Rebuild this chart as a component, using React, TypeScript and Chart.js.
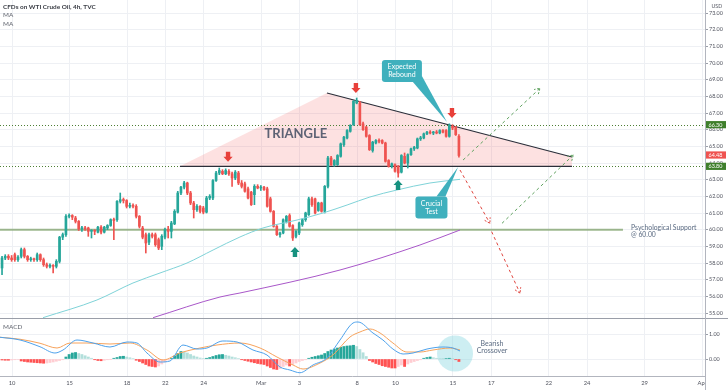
import React, { useEffect, useRef } from 'react';
import { Chart, registerables } from 'chart.js';

Chart.register(...registerables);

const W = 728;
const H = 390;

// ---------- time axis (trading-day index, 0 = Feb 10) ----------
const dayTicks = [0, 3, 6, 8, 10, 13, 15, 18, 20, 23, 25, 28, 30, 33, 36];
const dayTickLabels = ['10', '15', '18', '22', '24', 'Mar', '3', '8', '10', '15', '17', '22', '24', '29', 'Apr'];
const dayMin = -0.626;
const dayMax = 36.15;

// ---------- price axis ----------
const priceTicks = [55, 56, 57, 58, 59, 60, 61, 62, 63, 64, 65, 66, 67, 68, 69, 70, 71, 72, 73];
const priceMin = 54.7;
const priceMax = 73.78;
const macdTicks = [0, 1];
const macdMin = -0.68;
const macdMax = 1.64;

// ---------- 4h candles [open, high, low, close] ----------
const firstBarDay = -0.52;
const barsPerDay = 6;
const candles: number[][] = [
  [57.7, 58.4, 57.3, 58.3], [58.3, 58.5, 58.2, 58.4], [58.4, 58.5, 58.2, 58.3], [58.3, 58.45, 58.1, 58.2],
  [58.5, 58.6, 58.1, 58.2], [58.2, 58.45, 58.1, 58.35], [58.4, 58.9, 58.3, 58.8], [58.8, 58.9, 58.3, 58.4],
  [58.4, 58.45, 58.1, 58.2], [58.2, 58.35, 58.1, 58.25], [58.25, 58.3, 58.1, 58.2], [58.2, 58.6, 58.1, 58.5],
  [58.5, 58.55, 58.1, 58.2], [58.2, 58.3, 57.8, 57.9], [57.9, 58.0, 57.7, 57.8], [57.8, 57.95, 57.7, 57.85],
  [57.85, 57.9, 57.4, 57.8], [57.8, 58.2, 57.7, 58.1], [58.1, 59.6, 58.0, 59.55], [59.55, 59.8, 59.4, 59.7],
  [59.7, 60.9, 59.6, 60.8], [60.8, 60.95, 60.7, 60.85], [60.85, 60.9, 60.6, 60.75], [60.7, 60.8, 60.4, 60.5],
  [60.5, 60.55, 59.95, 60.05], [60.05, 60.2, 59.9, 60.1], [60.1, 60.2, 59.95, 60.05], [60.1, 60.15, 59.6, 59.9],
  [59.9, 60.0, 59.5, 59.95], [59.95, 60.0, 59.7, 59.9], [59.85, 60.2, 59.8, 60.15], [60.15, 60.25, 59.75, 59.85],
  [59.85, 60.2, 59.8, 60.15], [60.1, 60.3, 60.0, 60.25], [60.25, 60.65, 60.2, 60.6], [60.6, 60.7, 59.4, 60.55],
  [60.6, 61.75, 60.5, 61.7], [61.7, 62.2, 61.6, 61.8], [61.8, 61.9, 61.6, 61.75], [61.75, 61.8, 61.3, 61.4],
  [61.4, 61.6, 61.3, 61.45], [61.45, 61.55, 61.3, 61.4], [61.4, 61.5, 60.7, 60.8], [60.8, 60.85, 60.1, 60.2],
  [60.1, 60.2, 59.45, 59.55], [59.7, 59.8, 58.6, 59.2], [59.25, 59.8, 59.1, 59.7], [59.7, 59.8, 59.5, 59.6],
  [59.7, 59.8, 59.0, 59.1], [59.4, 59.5, 58.8, 58.9], [59.0, 59.7, 58.8, 59.6], [59.55, 60.1, 59.45, 60.0],
  [60.0, 60.2, 59.5, 59.9], [59.9, 60.5, 59.5, 60.4], [60.35, 61.2, 60.3, 61.1], [61.05, 62.3, 61.0, 62.2],
  [62.2, 62.6, 62.1, 62.55], [62.55, 62.9, 62.45, 62.8], [62.8, 62.85, 62.1, 62.2], [62.2, 62.3, 61.5, 61.6],
  [61.6, 61.7, 60.7, 61.2], [61.2, 61.5, 61.1, 61.4], [61.4, 61.45, 61.0, 61.1], [61.3, 61.4, 60.95, 61.05],
  [61.05, 62.0, 61.0, 61.9], [61.9, 62.1, 61.8, 62.0], [61.9, 63.0, 61.8, 62.95], [62.95, 63.5, 62.9, 63.4],
  [63.4, 63.7, 63.3, 63.55], [63.5, 63.6, 63.3, 63.35], [63.35, 63.65, 63.3, 63.55], [63.5, 63.6, 63.25, 63.35],
  [63.35, 63.45, 62.6, 63.1], [63.1, 63.55, 63.0, 63.45], [63.4, 63.5, 62.7, 62.8], [62.8, 62.95, 62.5, 62.6],
  [62.75, 62.85, 62.25, 62.3], [62.45, 62.55, 61.85, 61.9], [62.25, 62.3, 61.45, 61.5], [62.1, 62.7, 61.5, 62.6],
  [62.6, 62.7, 62.45, 62.5], [62.5, 62.65, 62.35, 62.55], [62.55, 62.6, 62.35, 62.4], [62.45, 62.55, 61.35, 61.4],
  [61.85, 61.95, 61.05, 61.1], [61.1, 61.15, 60.15, 60.2], [60.2, 60.25, 59.65, 59.7], [59.7, 59.85, 59.55, 59.8],
  [59.8, 60.65, 59.75, 60.6], [60.5, 60.85, 60.4, 60.8], [60.85, 60.95, 60.15, 60.2], [60.25, 60.3, 59.35, 59.5],
  [59.6, 59.95, 59.5, 59.9], [59.8, 60.45, 59.7, 60.4], [60.3, 60.65, 60.2, 60.6], [60.6, 61.05, 60.5, 61.0],
  [60.9, 61.95, 60.85, 61.85], [61.85, 61.95, 61.4, 61.5], [61.85, 61.9, 60.95, 61.0], [61.15, 61.65, 61.1, 61.6],
  [61.6, 61.65, 61.05, 61.1], [61.1, 62.65, 61.0, 62.6], [62.6, 64.4, 62.5, 64.3], [64.3, 64.4, 63.85, 63.9],
  [63.9, 64.2, 63.8, 64.15], [63.9, 64.5, 63.85, 64.45], [64.4, 65.2, 64.35, 65.15], [65.1, 65.6, 65.0, 65.55],
  [65.5, 66.0, 65.45, 65.95], [65.9, 66.3, 65.85, 66.25], [66.3, 67.75, 66.25, 67.7], [67.6, 67.9, 67.55, 67.75],
  [67.6, 67.7, 66.25, 66.3], [66.35, 66.45, 65.95, 66.0], [66.15, 66.2, 65.55, 65.6], [65.65, 65.7, 64.75, 64.8],
  [64.75, 65.3, 64.65, 65.25], [65.2, 65.4, 65.15, 65.35], [65.35, 65.45, 65.2, 65.3], [65.35, 65.4, 65.15, 65.2],
  [65.2, 65.25, 64.05, 64.1], [64.15, 64.2, 63.75, 63.8], [63.8, 64.0, 63.7, 63.95], [63.9, 63.95, 63.45, 63.5],
  [63.8, 63.85, 63.15, 63.4], [63.45, 64.5, 63.4, 64.45], [64.4, 64.6, 63.95, 64.0], [64.0, 64.55, 63.7, 64.5],
  [64.5, 64.9, 64.45, 64.85], [64.85, 65.0, 64.75, 64.95], [64.9, 65.5, 64.85, 65.45], [65.45, 65.6, 65.35, 65.5],
  [65.5, 65.8, 65.45, 65.75], [65.75, 65.9, 65.7, 65.85], [65.85, 65.95, 65.75, 65.8], [65.8, 65.9, 65.7, 65.85],
  [65.85, 65.95, 65.75, 65.8], [65.8, 66.0, 65.75, 65.95], [65.95, 66.0, 65.8, 65.85], [65.95, 66.0, 65.55, 65.6],
  [65.6, 66.35, 65.55, 66.25], [66.2, 66.3, 66.0, 66.1], [66.15, 66.2, 65.65, 65.7], [65.6, 65.7, 64.35, 64.45],
];

// ---------- moving averages [day, value] ----------
const maFast: number[][] = [
  [1.62, 54.72], [4.43, 55.78], [6.31, 56.8], [7.72, 57.4], [9.13, 58.0], [10.49, 58.78], [11.89, 59.56],
  [13.09, 60.1], [14.87, 60.58], [16.22, 61.0], [17.48, 61.48], [18.67, 61.96], [20.08, 62.38], [21.8, 62.8], [23.37, 63.02],
];
const maSlow: number[][] = [
  [7.36, 54.72], [10.85, 55.96], [11.89, 56.2], [17.11, 57.58], [21.28, 59.08], [23.37, 59.98],
];

// ---------- MACD [day, value] ----------
const macdLine: number[][] = [
  [-0.63, 0.87], [0.42, 0.76], [1.46, 0.49], [2.24, 0.24], [2.66, 0.36], [3.39, 0.76], [4.23, 0.64], [5.11, 0.48],
  [6.0, 0.68], [6.52, 0.64], [7.04, 0.24], [7.72, -0.12], [8.24, -0.08], [8.92, 0.56], [9.65, 0.4], [10.17, 0.44],
  [11.0, 0.72], [11.74, 0.68], [12.57, 0.36], [13.3, 0.16], [13.98, -0.32], [14.5, -0.44], [15.02, -0.55],
  [15.7, -0.24], [16.43, 0.04], [17.11, 0.76], [17.79, 1.44], [18.05, 1.48], [18.83, 1.04], [19.35, 0.76],
  [19.87, 0.4], [20.4, 0.2], [20.92, 0.24], [21.65, 0.4], [22.48, 0.48], [23.0, 0.44], [23.37, 0.32],
];
const signalLine: number[][] = [
  [-0.63, 0.87], [0.42, 0.79], [1.46, 0.63], [2.35, 0.44], [3.03, 0.64], [3.91, 0.64], [5.11, 0.6], [6.16, 0.64],
  [7.04, 0.36], [7.88, -0.04], [8.76, 0.24], [9.81, 0.44], [10.69, 0.56], [11.89, 0.64], [12.94, 0.44],
  [13.82, 0.08], [14.66, -0.24], [15.18, -0.4], [16.07, -0.16], [16.74, 0.16], [17.63, 0.88], [18.15, 1.08],
  [18.68, 1.2], [19.2, 1.04], [19.87, 0.64], [20.6, 0.28], [21.28, 0.28], [21.96, 0.36], [22.85, 0.44], [23.37, 0.36],
];
const macdHistogram: number[] = [
  -0.04, -0.05, -0.05, -0.04, -0.03, -0.02, -0.08, -0.1, -0.12, -0.13, -0.14, -0.15, -0.16, -0.17, -0.16, -0.14,
  -0.12, -0.09, -0.06, -0.03, 0.08, 0.18, 0.24, 0.26, 0.22, 0.18, 0.13, 0.08, 0.03, -0.03, -0.06, -0.07,
  -0.05, -0.03, -0.01, 0.03, 0.06, 0.1, 0.11, 0.08, 0.05, 0.02, -0.05, -0.1, -0.16, -0.22, -0.28, -0.3,
  -0.32, -0.28, -0.2, -0.12, -0.04, 0.03, 0.12, 0.22, 0.3, 0.28, 0.24, 0.18, 0.12, 0.08, 0.04, 0.02,
  0.03, 0.06, 0.1, 0.14, 0.17, 0.18, 0.15, 0.12, 0.08, 0.05, 0.02, -0.03, -0.06, -0.09, -0.12, -0.15,
  -0.18, -0.2, -0.22, -0.28, -0.34, -0.4, -0.42, -0.38, -0.3, -0.24, -0.28, -0.22, -0.16, -0.1, -0.06, -0.03,
  0.03, 0.07, 0.1, 0.13, 0.16, 0.22, 0.3, 0.36, 0.4, 0.44, 0.47, 0.5, 0.52, 0.53, 0.55, 0.5,
  0.38, 0.25, 0.1, -0.06, -0.12, -0.18, -0.22, -0.27, -0.3, -0.33, -0.36, -0.36, -0.3, -0.24, -0.3, -0.2,
  -0.14, -0.1, -0.06, -0.03, 0.03, 0.06, 0.08, 0.05, 0.03, 0.02, 0.01, 0.02, 0.03, 0.01, -0.03, -0.1,
];

// ---------- annotations (data coordinates) ----------
const resistanceLevel = 66.3;
const supportLevel = 63.8;
const psychLevel = 60.0;
const lastPrice = 64.48;
const psychLineEndDay = 31.87;
const triangleLeft = [8.76, 63.8];
const triangleTop = [16.43, 68.2];
const triangleRight = [29.21, 64.36];
const bullishPaths: number[][][] = [
  [[23.53, 64.18], [27.54, 68.48]],
  [[25.56, 60.38], [29.28, 64.48]],
];
const bearishPaths: number[][][] = [
  [[23.37, 63.58], [24.93, 60.38]],
  [[25.02, 59.88], [26.5, 56.19]],
];
const downMarkers: number[][] = [[11.27, 64.08], [17.94, 68.2], [22.95, 66.7]];
const upMarkers: number[][] = [[14.76, 58.96], [20.14, 62.98]];
const callouts = [
  { lines: ['Expected', 'Rebound'], at: [20.34, 69.52], tip: [22.69, 66.46], w: 40, h: 22, base: [[11, 11], [20, 5]] },
  { lines: ['Crucial', 'Test'], at: [21.88, 61.33], tip: [23.27, 63.76], w: 32, h: 22, base: [[5, -11], [14, -11]] },
];
const triangleLabelAt = [14.81, 65.74];
const psychLabelAt = [32.29, 60.0];
const crossoverLabelAt = [25.04, 0.48];
const crossoverCircle = [23.11, 0.22];

const GREEN = '#26a69a';
const RED = '#ef5350';
const FONT = 'Lato, "Open Sans", sans-serif';

const barDay = (i: number) => firstBarDay + i / barsPerDay;

function arrowHead(ctx: any, x1: number, y1: number, x2: number, y2: number, size: number) {
  const a = Math.atan2(y2 - y1, x2 - x1);
  ctx.beginPath();
  ctx.moveTo(x2 - size * Math.cos(a - 0.55), y2 - size * Math.sin(a - 0.55));
  ctx.lineTo(x2, y2);
  ctx.lineTo(x2 - size * Math.cos(a + 0.55), y2 - size * Math.sin(a + 0.55));
  ctx.stroke();
}

function blockArrow(ctx: any, x: number, yTip: number, dir: number, color: string) {
  // dir = 1 points down (tip below), dir = -1 points up (tip above)
  ctx.fillStyle = color;
  ctx.beginPath();
  ctx.moveTo(x - 2.2, yTip - dir * 10);
  ctx.lineTo(x + 2.2, yTip - dir * 10);
  ctx.lineTo(x + 2.2, yTip - dir * 5);
  ctx.lineTo(x + 4.6, yTip - dir * 5);
  ctx.lineTo(x, yTip);
  ctx.lineTo(x - 4.6, yTip - dir * 5);
  ctx.lineTo(x - 2.2, yTip - dir * 5);
  ctx.closePath();
  ctx.fill();
}

function roundRect(ctx: any, x: number, y: number, w: number, h: number, r: number) {
  ctx.beginPath();
  ctx.moveTo(x + r, y);
  ctx.lineTo(x + w - r, y);
  ctx.quadraticCurveTo(x + w, y, x + w, y + r);
  ctx.lineTo(x + w, y + h - r);
  ctx.quadraticCurveTo(x + w, y + h, x + w - r, y + h);
  ctx.lineTo(x + r, y + h);
  ctx.quadraticCurveTo(x, y + h, x, y + h - r);
  ctx.lineTo(x, y + r);
  ctx.quadraticCurveTo(x, y, x + r, y);
  ctx.closePath();
}

const annotationPlugin = {
  id: 'tvAnnotations',
  beforeDraw(chart: any) {
    const ctx = chart.ctx;
    ctx.save();
    ctx.fillStyle = '#ffffff';
    ctx.fillRect(0, 0, chart.width, chart.height);
    ctx.restore();
  },
  beforeDatasetsDraw(chart: any) {
    const { ctx, chartArea, scales } = chart;
    const x = scales.x, y = scales.y, m = scales.y2;
    const X = (d: number) => x.getPixelForValue(d);
    const Y = (p: number) => y.getPixelForValue(p);
    ctx.save();
    ctx.beginPath();
    ctx.rect(chartArea.left, y.top, chartArea.right - chartArea.left, y.bottom - y.top);
    ctx.clip();

    // triangle fill
    ctx.fillStyle = 'rgba(242, 90, 90, 0.18)';
    ctx.beginPath();
    ctx.moveTo(X(triangleLeft[0]), Y(triangleLeft[1]));
    ctx.lineTo(X(triangleTop[0]), Y(triangleTop[1]));
    ctx.lineTo(X(triangleRight[0]), Y(triangleRight[1]));
    ctx.lineTo(X(triangleRight[0]), Y(supportLevel));
    ctx.closePath();
    ctx.fill();

    // dotted levels
    ctx.strokeStyle = '#4d7f35';
    ctx.lineWidth = 1;
    ctx.setLineDash([1, 2]);
    for (const lvl of [resistanceLevel, supportLevel]) {
      const yy = Math.round(Y(lvl)) + 0.5;
      ctx.beginPath();
      ctx.moveTo(chartArea.left, yy);
      ctx.lineTo(chartArea.right, yy);
      ctx.stroke();
    }
    ctx.setLineDash([]);

    // psychological support line
    ctx.strokeStyle = 'rgba(125, 160, 105, 0.75)';
    ctx.lineWidth = 2;
    ctx.beginPath();
    ctx.moveTo(chartArea.left, Y(psychLevel));
    ctx.lineTo(X(psychLineEndDay), Y(psychLevel));
    ctx.stroke();

    // triangle borders
    ctx.strokeStyle = '#2a2e39';
    ctx.lineWidth = 1.2;
    ctx.beginPath();
    ctx.moveTo(X(triangleTop[0]), Y(triangleTop[1]));
    ctx.lineTo(X(triangleRight[0]), Y(triangleRight[1]));
    ctx.stroke();
    ctx.beginPath();
    ctx.moveTo(X(triangleLeft[0]), Y(supportLevel));
    ctx.lineTo(X(triangleRight[0]), Y(supportLevel));
    ctx.stroke();

    // TRIANGLE label
    ctx.fillStyle = 'rgba(75, 84, 104, 0.9)';
    ctx.font = `bold 13px ${FONT}`;
    ctx.textAlign = 'center';
    ctx.textBaseline = 'middle';
    ctx.fillText('TRIANGLE', X(triangleLabelAt[0]), Y(triangleLabelAt[1]));
    ctx.restore();

    // MACD crossover circle
    ctx.save();
    ctx.fillStyle = 'rgba(130, 212, 222, 0.4)';
    ctx.beginPath();
    ctx.arc(X(crossoverCircle[0]), m.getPixelForValue(crossoverCircle[1]), 18, 0, Math.PI * 2);
    ctx.fill();
    ctx.restore();
  },
  afterDatasetsDraw(chart: any) {
    const { ctx, chartArea, scales } = chart;
    const x = scales.x, y = scales.y, m = scales.y2;
    const X = (d: number) => x.getPixelForValue(d);
    const Y = (p: number) => y.getPixelForValue(p);
    ctx.save();
    ctx.beginPath();
    ctx.rect(chartArea.left, y.top, chartArea.right - chartArea.left, y.bottom - y.top);
    ctx.clip();

    // projected paths
    const drawPaths = (paths: number[][][], color: string) => {
      ctx.strokeStyle = color;
      ctx.lineWidth = 1;
      for (const [a, b] of paths) {
        const x1 = X(a[0]), y1 = Y(a[1]), x2 = X(b[0]), y2 = Y(b[1]);
        ctx.setLineDash([3, 3]);
        ctx.beginPath();
        ctx.moveTo(x1, y1);
        ctx.lineTo(x2, y2);
        ctx.stroke();
        ctx.setLineDash([2, 1.5]);
        arrowHead(ctx, x1, y1, x2, y2, 6);
      }
      ctx.setLineDash([]);
    };
    drawPaths(bullishPaths, '#5fa25f');
    drawPaths(bearishPaths, '#e0463f');

    // markers
    for (const [d, p] of downMarkers) blockArrow(ctx, X(d), Y(p), 1, '#e8403a');
    for (const [d, p] of upMarkers) blockArrow(ctx, X(d), Y(p), -1, '#17917f');

    // callouts
    for (const c of callouts) {
      const cx = X(c.at[0]), cy = Y(c.at[1]);
      const tx = X(c.tip[0]), ty = Y(c.tip[1]);
      ctx.fillStyle = '#3fb0bd';
      ctx.beginPath();
      ctx.moveTo(cx + c.base[0][0], cy + c.base[0][1]);
      ctx.lineTo(tx, ty);
      ctx.lineTo(cx + c.base[1][0], cy + c.base[1][1]);
      ctx.closePath();
      ctx.fill();
      roundRect(ctx, cx - c.w / 2, cy - c.h / 2, c.w, c.h, 3);
      ctx.fill();
      ctx.fillStyle = '#ffffff';
      ctx.font = `7px ${FONT}`;
      ctx.textAlign = 'center';
      ctx.textBaseline = 'middle';
      ctx.fillText(c.lines[0], cx, cy - 4);
      ctx.fillText(c.lines[1], cx, cy + 4);
    }
    const px = X(psychLabelAt[0]), py = Y(psychLabelAt[1]);
    ctx.restore();

    // psychological support label
    ctx.save();
    ctx.fillStyle = '#5b6b82';
    ctx.font = `6.8px ${FONT}`;
    ctx.textAlign = 'left';
    ctx.textBaseline = 'middle';
    ctx.fillText('Psychological Support', px, py - 1.8);
    ctx.fillText('@ 60.00', px, py + 5.4);

    // MACD annotation
    const bx = X(crossoverLabelAt[0]), by = m.getPixelForValue(crossoverLabelAt[1]);
    ctx.textAlign = 'center';
    ctx.font = `7px ${FONT}`;
    ctx.fillText('Bearish', bx, by - 3.6);
    ctx.fillText('Crossover', bx, by + 3.4);
    ctx.restore();
  },
  afterDraw(chart: any) {
    const { ctx, chartArea, scales } = chart;
    const y = scales.y;
    ctx.save();
    // separators
    ctx.fillStyle = '#ffffff';
    ctx.fillRect(chartArea.right + 1, chartArea.bottom + 1, chart.width, chart.height);
    ctx.strokeStyle = '#9a9ea8';
    ctx.lineWidth = 1;
    ctx.beginPath();
    ctx.moveTo(0, Math.round(y.bottom) + 0.5);
    ctx.lineTo(chart.width, Math.round(y.bottom) + 0.5);
    ctx.stroke();
    ctx.strokeStyle = '#b2b5be';
    ctx.beginPath();
    ctx.moveTo(Math.round(chartArea.right) + 0.5, 0);
    ctx.lineTo(Math.round(chartArea.right) + 0.5, chart.height);
    ctx.stroke();
    ctx.beginPath();
    ctx.moveTo(0, Math.round(chartArea.bottom) + 0.5);
    ctx.lineTo(chartArea.right, Math.round(chartArea.bottom) + 0.5);
    ctx.stroke();

    // price labels on axis
    const tag = (p: number, color: string) => {
      const yy = y.getPixelForValue(p);
      ctx.fillStyle = color;
      ctx.fillRect(chartArea.right + 1, yy - 3.6, 20, 7.2);
      ctx.fillStyle = '#ffffff';
      ctx.font = `5.4px ${FONT}`;
      ctx.textAlign = 'left';
      ctx.textBaseline = 'middle';
      ctx.fillText(p.toFixed(2), chartArea.right + 3.5, yy + 0.3);
    };
    tag(resistanceLevel, '#3f7f2c');
    tag(supportLevel, '#3f7f2c');
    tag(lastPrice, RED);

    // header texts
    ctx.textAlign = 'left';
    ctx.textBaseline = 'middle';
    ctx.fillStyle = '#3a3d45';
    ctx.font = `bold 6.4px ${FONT}`;
    ctx.fillText('CFDs on WTI Crude Oil, 4h, TVC', 3, 7.3);
    ctx.fillStyle = '#5f636d';
    ctx.font = `6.4px ${FONT}`;
    ctx.fillText('MA', 3, 15.3);
    ctx.fillText('MA', 3, 23.5);
    ctx.fillText('MACD', 3, y.bottom + 8.5);
    ctx.fillStyle = '#50535e';
    ctx.font = `5.2px ${FONT}`;
    ctx.fillText('USD', chartArea.right + 6.5, 6);
    ctx.restore();
  },
};

const histColors = macdHistogram.map((v, i) => {
  const prev = i > 0 ? macdHistogram[i - 1] : 0;
  if (v >= 0) return v >= prev ? GREEN : '#b2dfdb';
  return v <= prev ? '#ff5252' : '#ffcdd2';
});
const candleColors = candles.map((c) => (c[3] >= c[0] ? GREEN : RED));

export default function App() {
  const ref = useRef<HTMLCanvasElement>(null);
  useEffect(() => {
    document.body.style.margin = '0';
    const fixY = (s: any) => {
      s.width = 23;
      s.paddingTop = 0;
      s.paddingBottom = 0;
    };
    const chart = new Chart(ref.current as HTMLCanvasElement, {
      type: 'bar',
      data: {
        datasets: [
          {
            type: 'line', label: 'MACD', yAxisID: 'y2', order: 1,
            data: macdLine.map(([d, v]) => ({ x: d, y: v })),
            borderColor: '#4ea2ec', borderWidth: 1, pointRadius: 0, cubicInterpolationMode: 'monotone',
          },
          {
            type: 'line', label: 'Signal', yAxisID: 'y2', order: 2,
            data: signalLine.map(([d, v]) => ({ x: d, y: v })),
            borderColor: '#f7a35c', borderWidth: 1, pointRadius: 0, cubicInterpolationMode: 'monotone',
          },
          {
            type: 'line', label: 'MA fast', yAxisID: 'y', order: 3,
            data: maFast.map(([d, v]) => ({ x: d, y: v })),
            borderColor: '#7fd3d8', borderWidth: 1, pointRadius: 0, cubicInterpolationMode: 'monotone',
          },
          {
            type: 'line', label: 'MA slow', yAxisID: 'y', order: 3,
            data: maSlow.map(([d, v]) => ({ x: d, y: v })),
            borderColor: '#a957c9', borderWidth: 1, pointRadius: 0, cubicInterpolationMode: 'monotone',
          },
          {
            type: 'bar', label: 'Bodies', yAxisID: 'y', order: 4, grouped: false,
            data: candles.map((c, i) => ({ x: barDay(i), y: [c[0], c[3]] })) as any,
            backgroundColor: candleColors, barThickness: 2, minBarLength: 1, borderWidth: 0,
          },
          {
            type: 'bar', label: 'Wicks', yAxisID: 'y', order: 5, grouped: false,
            data: candles.map((c, i) => ({ x: barDay(i), y: [c[2], c[1]] })) as any,
            backgroundColor: candleColors, barThickness: 1, borderWidth: 0,
          },
          {
            type: 'bar', label: 'Histogram', yAxisID: 'y2', order: 6, grouped: false,
            data: macdHistogram.map((v, i) => ({ x: barDay(i), y: v })) as any,
            backgroundColor: histColors, barThickness: 2.2, borderWidth: 0,
          },
        ] as any,
      },
      options: {
        animation: false,
        responsive: false,
        maintainAspectRatio: false,
        devicePixelRatio: 1,
        layout: { padding: 0 },
        plugins: { legend: { display: false }, tooltip: { enabled: false } },
        font: { family: FONT },
        scales: {
          x: {
            type: 'linear', min: dayMin, max: dayMax, offset: false,
            grid: { color: '#eef0f4', drawTicks: false, offset: false },
            border: { display: false },
            afterBuildTicks: (s: any) => { s.ticks = dayTicks.map((v) => ({ value: v })); },
            afterFit: (s: any) => { s.height = 14; s.paddingLeft = 0; s.paddingRight = 0; },
            ticks: {
              autoSkip: false, maxRotation: 0, padding: 4, color: '#50535e',
              font: { size: 5.8, family: FONT },
              callback: (_v: any, i: number) => dayTickLabels[i],
            },
          },
          y: {
            type: 'linear', position: 'right', stack: 'pane', stackWeight: 318,
            min: priceMin, max: priceMax,
            grid: { color: '#eef0f4', tickLength: 3, tickColor: '#9a9ea8' },
            border: { display: false },
            afterBuildTicks: (s: any) => { s.ticks = priceTicks.map((v) => ({ value: v })); },
            afterFit: fixY,
            ticks: {
              autoSkip: false, padding: 1, color: '#50535e', font: { size: 5.4, family: FONT },
              callback: (v: any) => Number(v).toFixed(2),
            },
          },
          y2: {
            type: 'linear', position: 'right', stack: 'pane', stackWeight: 58,
            min: macdMin, max: macdMax,
            grid: { color: '#eef0f4', tickLength: 3, tickColor: '#9a9ea8' },
            border: { display: false },
            afterBuildTicks: (s: any) => { s.ticks = macdTicks.map((v) => ({ value: v })); },
            afterFit: fixY,
            ticks: {
              autoSkip: false, padding: 1, color: '#50535e', font: { size: 5.4, family: FONT },
              callback: (v: any) => Number(v).toFixed(2),
            },
          },
        },
      } as any,
      plugins: [annotationPlugin],
    });
    return () => chart.destroy();
  }, []);
  return (
    <div style={{ width: W, height: H, background: '#ffffff' }}>
      <canvas ref={ref} width={W} height={H} style={{ display: 'block', width: W, height: H }} />
    </div>
  );
}
